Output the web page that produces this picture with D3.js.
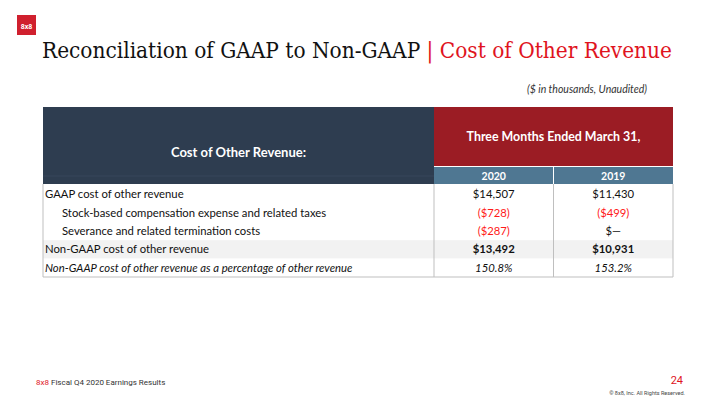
<!DOCTYPE html>
<html>
<head>
<meta charset="utf-8">
<script src="https://cdn.jsdelivr.net/npm/d3@7"></script>
<style>
  body { margin: 0; background: #fff; }
  svg { display: block; }
</style>
</head>
<body>
<div class="chart"></div>
<script>
const width = 720
const height = 405

const rowLabels = [
    "GAAP cost of other revenue",
    "Stock-based compensation expense and related taxes",
    "Severance and related termination costs",
    "Non-GAAP cost of other revenue",
    "Non-GAAP cost of other revenue as a percentage of other revenue"
]
const rowStyle = ["plain", "indent", "indent", "bold", "italic"]
const years = ["2020", "2019"]
const values2020 = ["$14,507", "($728)", "($287)", "$13,492", "150.8%"]
const values2019 = ["$11,430", "($499)", "$\u2014", "$10,931", "153.2%"]

const body = "Lato, 'Open Sans', sans-serif"
const slab = "'DejaVu Serif', serif"

const svg = d3.select(".chart")
    .append("svg")
    .attr("width", width)
    .attr("height", height)

// logo
svg.append("rect")
    .attr("x", 17).attr("y", 15)
    .attr("width", 19).attr("height", 20)
    .attr("fill", "#D0202E")
svg.append("text")
    .attr("x", 26.5).attr("y", 28.5)
    .attr("text-anchor", "middle")
    .style("font-family", "Roboto, sans-serif")
    .style("font-weight", "700")
    .style("font-size", "7px")
    .style("fill", "white")
    .text("8x8")

// title
const title = svg.append("text")
    .attr("x", 42).attr("y", 58)
    .style("font-family", slab)
    .style("font-size", "21.5px")
    .attr("textLength", 630)
    .attr("lengthAdjust", "spacingAndGlyphs")
title.append("tspan").style("fill", "#111").text("Reconciliation of GAAP to Non-GAAP ")
title.append("tspan").style("fill", "#E0141E").text("| Cost of Other Revenue")

svg.append("text")
    .attr("x", 647).attr("y", 93)
    .attr("text-anchor", "end")
    .style("font-family", body)
    .style("font-style", "italic")
    .style("font-size", "10.5px")
    .style("fill", "#333")
    .text("($ in thousands, Unaudited)")

// table
const tLeft = 43, tSplit = 434, tRight = 673
const xCol = d3.scaleBand().domain(years).range([tSplit, tRight])
const yRow = d3.scaleBand().domain(d3.range(rowLabels.length)).range([185, 277])

const g = svg.append("g")

// header cells
g.append("rect")
    .attr("x", tLeft).attr("y", 107)
    .attr("width", tSplit - tLeft).attr("height", 77)
    .attr("fill", "#2E3D50")
g.append("line")
    .attr("x1", tLeft).attr("x2", tSplit)
    .attr("y1", 176).attr("y2", 176)
    .attr("stroke", "#36475B").attr("stroke-width", 1)
g.append("rect")
    .attr("x", tSplit).attr("y", 107)
    .attr("width", tRight - tSplit).attr("height", 59)
    .attr("fill", "#9B1C24")
g.selectAll("rect.year")
    .data(years)
    .enter().append("rect")
        .attr("class", "year")
        .attr("x", d => xCol(d)).attr("y", 167)
        .attr("width", xCol.bandwidth()).attr("height", 17)
        .attr("fill", "#4F7792")
g.append("line")
    .attr("x1", xCol(years[1])).attr("x2", xCol(years[1]))
    .attr("y1", 166).attr("y2", 184)
    .attr("stroke", "#fff").attr("stroke-width", 1)
g.append("line")
    .attr("x1", tSplit).attr("x2", tRight)
    .attr("y1", 166.5).attr("y2", 166.5)
    .attr("stroke", "#fff").attr("stroke-width", 1)

g.append("text")
    .attr("x", (tLeft + tSplit) / 2).attr("y", 157)
    .attr("text-anchor", "middle")
    .style("font-family", body).style("font-weight", "700")
    .style("font-size", "13px").style("fill", "white")
    .text("Cost of Other Revenue:")
g.append("text")
    .attr("x", (tSplit + tRight) / 2).attr("y", 141)
    .attr("text-anchor", "middle")
    .style("font-family", body).style("font-weight", "700")
    .style("font-size", "12.4px").style("fill", "white")
    .text("Three Months Ended March 31,")
g.selectAll("text.year")
    .data(years)
    .enter().append("text")
        .attr("class", "year")
        .attr("x", d => xCol(d) + xCol.bandwidth() / 2).attr("y", 180)
        .attr("text-anchor", "middle")
        .style("font-family", body).style("font-weight", "700")
        .style("font-size", "10.5px").style("fill", "white")
        .text(d => d)

// body rows
g.selectAll("rect.row")
    .data(rowLabels)
    .enter().append("rect")
        .attr("class", "row")
        .attr("x", tLeft).attr("y", (d, i) => yRow(i))
        .attr("width", tRight - tLeft).attr("height", yRow.bandwidth())
        .attr("fill", (d, i) => rowStyle[i] === "bold" ? "#F2F2F2" : "#fff")

const fontStyle = i => rowStyle[i] === "italic" ? "italic" : "normal"
const fontWeight = i => rowStyle[i] === "bold" ? "700" : "400"

g.selectAll("text.label")
    .data(rowLabels)
    .enter().append("text")
        .attr("class", "label")
        .attr("x", (d, i) => rowStyle[i] === "indent" ? 62 : 45)
        .attr("y", (d, i) => yRow(i) + yRow.bandwidth() / 2 + 4)
        .style("font-family", body)
        .style("font-size", "11.3px")
        .style("font-style", (d, i) => fontStyle(i))
        .style("fill", "#111")
        .text(d => d)

const cells = []
rowLabels.forEach((r, i) => {
    cells.push({year: years[0], row: i, value: values2020[i]})
    cells.push({year: years[1], row: i, value: values2019[i]})
})

g.selectAll("text.value")
    .data(cells)
    .enter().append("text")
        .attr("class", "value")
        .attr("x", d => xCol(d.year) + xCol.bandwidth() / 2)
        .attr("y", d => yRow(d.row) + yRow.bandwidth() / 2 + 4)
        .attr("text-anchor", "middle")
        .style("font-family", body)
        .style("font-size", "11.3px")
        .style("font-style", d => fontStyle(d.row))
        .style("font-weight", d => fontWeight(d.row))
        .style("fill", d => d.value.startsWith("(") ? "#FF1A1A" : "#111")
        .text(d => d.value)

// grid lines
const vLines = [tLeft, tSplit, xCol(years[1]), tRight]
g.selectAll("line.v")
    .data(vLines)
    .enter().append("line")
        .attr("class", "v")
        .attr("x1", d => d).attr("x2", d => d)
        .attr("y1", 184).attr("y2", 277)
        .attr("stroke", "#BFBFBF").attr("stroke-width", 1)
g.append("line")
    .attr("x1", tLeft).attr("x2", tRight)
    .attr("y1", 277).attr("y2", 277)
    .attr("stroke", "#BFBFBF").attr("stroke-width", 1.2)

// footer
const foot = svg.append("text")
    .attr("x", 36).attr("y", 385)
    .style("font-family", "Roboto, sans-serif")
    .style("font-size", "8px")
foot.append("tspan").style("fill", "#E0141E").text("8x8")
foot.append("tspan").style("fill", "#333").text(" Fiscal Q4 2020 Earnings Results")

svg.append("text")
    .attr("x", 683).attr("y", 384)
    .attr("text-anchor", "end")
    .style("font-family", "Roboto, sans-serif")
    .style("font-size", "11px")
    .style("fill", "#E0141E")
    .text("24")
svg.append("text")
    .attr("x", 685).attr("y", 395)
    .attr("text-anchor", "end")
    .style("font-family", "Roboto, sans-serif")
    .style("font-size", "5.5px")
    .style("fill", "#444")
    .text("\u00A9 8x8, Inc. All Rights Reserved.")
</script>
</body>
</html>
